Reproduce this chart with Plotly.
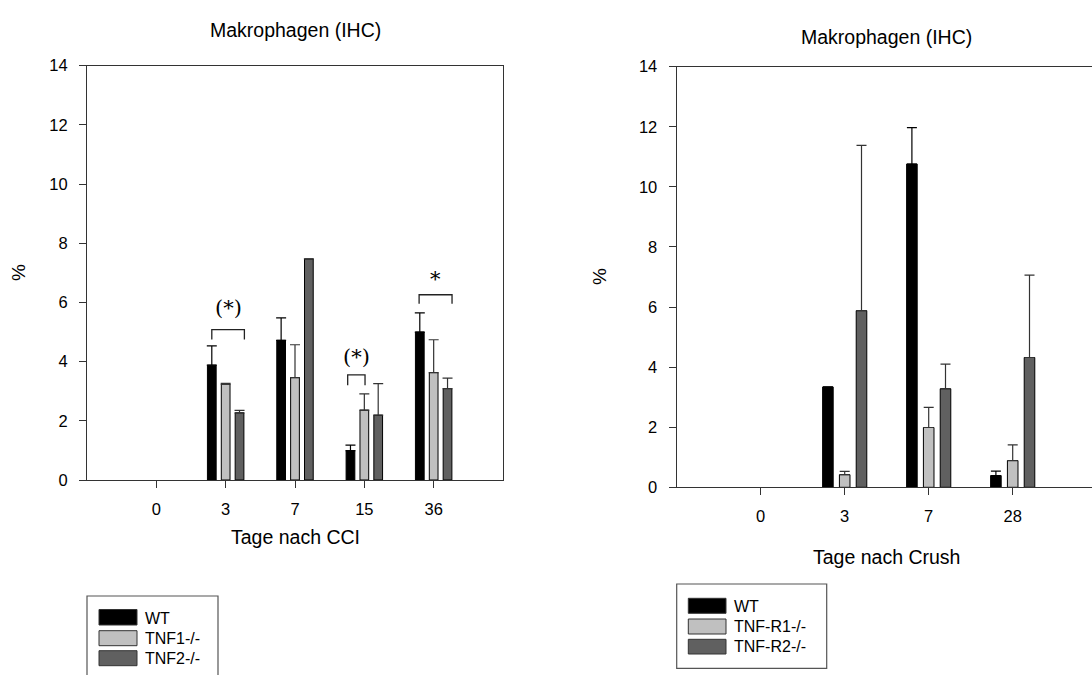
import plotly.graph_objects as go

# ---------------- data ----------------
title_text = "Makrophagen (IHC)"

left_days = ["0", "3", "7", "15", "36"]
left_series = ["WT", "TNF1-/-", "TNF2-/-"]
left_wt = [0, 3.88, 4.72, 0.99, 5.00]
left_wt_err = [0, 0.65, 0.76, 0.19, 0.65]
left_tnf1 = [0, 3.24, 3.46, 2.36, 3.63]
left_tnf1_err = [0, 0.03, 1.11, 0.55, 1.11]
left_tnf2 = [0, 2.27, 7.47, 2.19, 3.09]
left_tnf2_err = [0, 0.08, 0.0, 1.07, 0.35]

right_days = ["0", "3", "7", "28"]
right_series = ["WT", "TNF-R1-/-", "TNF-R2-/-"]
right_wt = [0, 3.34, 10.76, 0.39]
right_wt_err = [0, 0.0, 1.21, 0.15]
right_r1 = [0, 0.42, 1.99, 0.89]
right_r1_err = [0, 0.11, 0.67, 0.52]
right_r2 = [0, 5.88, 3.28, 4.32]
right_r2_err = [0, 5.50, 0.82, 2.74]

y_ticks = [0, 2, 4, 6, 8, 10, 12, 14]

# significance marks (left chart): category index, bracket x offsets, heights, label
sig_idx = [1, 3, 4]
sig_x0 = [-0.20, -0.24, -0.21]
sig_x1 = [0.27, 0.01, 0.265]
sig_ytop = [5.08, 3.55, 6.26]
sig_yend = [4.75, 3.20, 5.96]
sig_label = ["(*)", "(*)", "*"]
sig_ylabel = [5.8, 4.15, 6.78]

# ---------------- style ----------------
colors = ["#000000", "#c0c0c0", "#606060"]
err_colors = ["#000000", "#333333", "#333333"]
W, H = 1092, 675
FONT = "Liberation Sans, Arial, sans-serif"


def px(x):
    return x / W


def py(y):
    return 1 - y / H


fig = go.Figure()


def add_bars(series, vals_list, errs_list, xa, ya, n):
    for name, vals, errs, c, ec in zip(series, vals_list, errs_list, colors, err_colors):
        # zero-height bars (day 0) are invisible in the reference: draw them as gaps
        plot_vals = [v if v != 0 else None for v in vals]
        plot_err = [e if v != 0 else None for v, e in zip(vals, errs)]
        fig.add_trace(go.Bar(
            x=list(range(n)), y=plot_vals, name=name, xaxis=xa, yaxis=ya,
            marker=dict(color=c, line=dict(color="#000000", width=1)),
            error_y=dict(type="data", array=plot_err, arrayminus=[0] * n, symmetric=False,
                         color=ec, thickness=1.2, width=5),
            showlegend=False,
        ))


add_bars(left_series, [left_wt, left_tnf1, left_tnf2],
         [left_wt_err, left_tnf1_err, left_tnf2_err], "x", "y", len(left_days))
add_bars(right_series, [right_wt, right_r1, right_r2],
         [right_wt_err, right_r1_err, right_r2_err], "x2", "y2", len(right_days))

axis_common = dict(showline=True, linecolor="#333333", linewidth=1.2, showgrid=False,
                   zeroline=False, ticks="outside", tickcolor="#333333", ticklen=7,
                   tickwidth=1.2, automargin=False,
                   tickfont=dict(family=FONT, size=16.5, color="#000000"))

fig.update_layout(
    template="none",
    width=W, height=H, margin=dict(l=0, r=0, t=0, b=0, autoexpand=False),
    paper_bgcolor="white", plot_bgcolor="white",
    barmode="group", bargap=0.4, bargroupgap=0.37,
    font=dict(family=FONT, color="#000000"),
    xaxis=dict(domain=[px(87), px(503)], anchor="y", range=[-1, 5],
               tickvals=list(range(len(left_days))), ticktext=left_days,
               mirror=True, ticklabelstandoff=7, **axis_common),
    yaxis=dict(domain=[py(480), py(65.7)], anchor="x", range=[0, 14],
               tickvals=y_ticks, mirror=True, ticklabelstandoff=8, **axis_common),
    xaxis2=dict(domain=[px(676.7), 1.0], anchor="y2",
                range=[-1, -1 + (W - 676.7) / 84.0],
                tickvals=list(range(len(right_days))), ticktext=right_days,
                mirror=True, ticklabelstandoff=7, **axis_common),
    yaxis2=dict(domain=[py(487.3), py(66.7)], anchor="x2", range=[0, 14],
                tickvals=y_ticks, mirror=False, ticklabelstandoff=8, **axis_common),
)

ann = []
shapes = []


def text_at(x, y, text, size, angle=0, xanchor="center", family=FONT):
    ann.append(dict(x=px(x), y=py(y), xref="paper", yref="paper", text=text,
                    xanchor=xanchor, yanchor="middle", textangle=angle,
                    showarrow=False, font=dict(size=size, family=family, color="#000000")))


# chart titles and axis titles
text_at(295, 30, title_text, 19.5)
text_at(886, 37, title_text, 19.5)
text_at(295, 537, "Tage nach CCI", 19.5)
text_at(886, 557, "Tage nach Crush", 19.5)
text_at(19, 273, "%", 19, angle=-90)
text_at(599, 277, "%", 19, angle=-90)

# significance brackets
for i, x0, x1, yt, ye, lab, yl in zip(sig_idx, sig_x0, sig_x1, sig_ytop, sig_yend, sig_label, sig_ylabel):
    shapes.append(dict(type="path", xref="x", yref="y",
                       path=f"M {i + x0},{ye} L {i + x0},{yt} L {i + x1},{yt} L {i + x1},{ye}",
                       line=dict(color="#222222", width=1.3)))
    ann.append(dict(x=i + (x0 + x1) / 2, y=yl, xref="x", yref="y", text=lab, showarrow=False,
                    xanchor="center", yanchor="middle",
                    font=dict(size=21, family="DejaVu Serif, serif", color="#000000")))


# custom legends (large swatches like the reference)
def add_legend(box, sw_x, sw_rows, text_x, text_ys, names):
    bx0, by0, bx1, by1 = box
    shapes.append(dict(type="rect", xref="paper", yref="paper", x0=px(bx0), x1=px(bx1),
                       y0=py(by1), y1=py(by0), line=dict(color="#555555", width=1.2),
                       fillcolor="rgba(0,0,0,0)"))
    for (r0, r1), ty, name, c in zip(sw_rows, text_ys, names, colors):
        shapes.append(dict(type="rect", xref="paper", yref="paper", x0=px(sw_x[0]), x1=px(sw_x[1]),
                           y0=py(r1), y1=py(r0), line=dict(color="#333333", width=1),
                           fillcolor=c))
        text_at(text_x, ty, name, 16, xanchor="left")


add_legend((87, 596, 218, 690), (99, 137), [(609.5, 625), (630.7, 645.7), (650.7, 665.7)],
           143, [618, 638.5, 658], left_series)
add_legend((676.7, 584, 826.7, 668.3), (688.3, 726), [(598.3, 613.3), (619, 634), (639.3, 654)],
           732, [606, 626.5, 646.5], right_series)

fig.update_layout(annotations=ann, shapes=shapes)
fig.write_html("out.html", config={"displayModeBar": False},
               post_script="document.body.style.margin='0px';")
